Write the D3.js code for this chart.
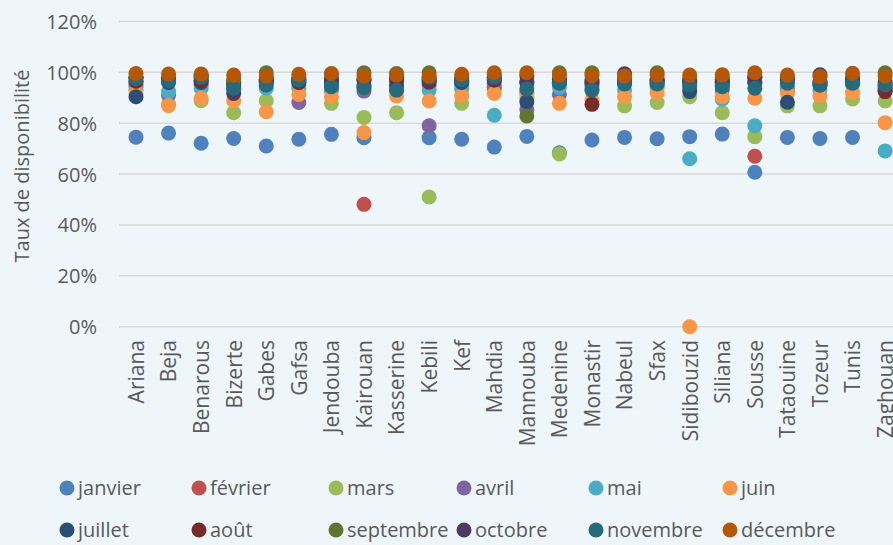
<!DOCTYPE html>
<html>
<head>
<meta charset="utf-8">
<script src="https://cdn.jsdelivr.net/npm/d3@7"></script>
<style>
  html, body { margin: 0; padding: 0; background: #eef6f9; }
  svg { display: block; }
  text { font-family: "Open Sans", "DejaVu Sans", sans-serif; fill: #595959; }
</style>
</head>
<body>
<svg id="chart" width="893" height="545"></svg>
<script>
// gouvernorats (axe x)
const gouvernorats = ["Ariana","Beja","Benarous","Bizerte","Gabes","Gafsa","Jendouba","Kairouan","Kasserine","Kebili","Kef","Mahdia","Mannouba","Medenine","Monastir","Nabeul","Sfax","Sidibouzid","Siliana","Sousse","Tataouine","Tozeur","Tunis","Zaghouan"];

const mois = ["janvier","février","mars","avril","mai","juin","juillet","août","septembre","octobre","novembre","décembre"];
const couleurs = ["#4f81bd","#c0504d","#9bbb59","#8064a2","#4bacc6","#f79646","#2c4d75","#772c2a","#5f7530","#4d3b62","#276a7c","#b65708"];

const yTicks = [0, 0.2, 0.4, 0.6, 0.8, 1.0, 1.2];

// taux de disponibilité (%) par mois, un tableau par mois, dans l'ordre des gouvernorats
const janvier   = [74.5,76.1,72.1,74.0,71.0,73.7,75.6,74.3,93.0,74.3,73.7,70.6,74.8,68.4,73.4,74.4,73.9,74.7,75.7,60.7,74.4,74.0,74.4,93.0];
const fevrier   = [96,97,97,96,97,97,96,48.1,97,95,96,95.4,96,96,96,96,96,96,96,67.0,94,95,96,95];
const mars      = [94,87.5,88.8,84.1,88.8,95,87.8,82.2,84.1,51.0,87.8,93.3,90,67.9,94,86.8,88.1,90.4,84.1,74.7,86.8,86.8,89.5,88.7];
const avril     = [95,91,95,93,96,88.1,93,92.6,94,79.0,95,94,85.4,91.3,95,96,95,94,93,96,93,96,96,93];
const mai       = [93,92.4,93.7,94,93.7,93.7,93,94,94,93.0,93.4,83.1,92,94,93,93.0,94,66.0,89.4,79.0,93,93,95,69.1];
const juin      = [91.7,86.9,89.8,88.8,84.5,91.3,90.4,76.3,90.7,88.7,90.8,91.7,91.7,87.8,89.1,90.4,92.0,0.0,90.4,89.8,91.7,90.7,92.0,80.2];
const juillet   = [90.4,96,96,95,96,96,95,95,95,97,96,97,88.4,96,95.9,96,96,92.4,95,96,88.2,95,96,94];
const aout      = [96.5,97,96.7,96,97,96.1,97,97,97,96.1,97,97,98.6,97,87.4,97,97,97,97,98.5,97,96,97,92.4];
const septembre = [98,98,99,97,99.8,98,99,99.8,99.5,99.8,98,99,82.8,99.8,99.8,98,99.8,97,98,98,98,95.7,98,99.8];
const octobre   = [98,97,98.5,91.7,97,97,97,97,98,97,96.7,98,96,97,97,99.4,97,96,96,98,97,99,97,96];
const novembre  = [97.5,96.7,98,93.7,95,97,94.3,93.9,93.0,98,97,98,93.4,95.7,93.0,95.4,95.4,95,94.3,93.7,95.7,95,95.7,95];
const decembre  = [99.5,99.3,99.3,98.9,98.5,99.2,99.5,98.5,98.9,98.5,99.2,99.8,99.8,98.9,98.7,98.5,98.9,98.9,99.0,99.8,98.9,98.3,99.6,98.5];

const series = [janvier,fevrier,mars,avril,mai,juin,juillet,aout,septembre,octobre,novembre,decembre];

const svg = d3.select("#chart");
svg.append("rect").attr("width", 893).attr("height", 545).attr("fill", "#eef6f9");

// zone de tracé (déborde à droite comme l'original)
const x = d3.scalePoint().domain(gouvernorats).range([119.7, 901.4]).padding(0.5);
const y = d3.scaleLinear().domain([0, 1.2]).range([326.7, 21.4]);

// grille horizontale
svg.append("g").selectAll("line")
  .data(yTicks)
  .join("line")
  .attr("x1", 119).attr("x2", 905)
  .attr("y1", d => y(d)).attr("y2", d => y(d))
  .attr("stroke", "#d9d9d9").attr("stroke-width", 1.5);

// étiquettes de l'axe y
const yAxis = d3.axisLeft(y).tickValues(yTicks).tickFormat(d3.format(".0%")).tickSize(0).tickPadding(0);
const gy = svg.append("g").attr("transform", "translate(97,0)").call(yAxis);
gy.select(".domain").remove();
gy.selectAll("text").attr("font-size", 20).attr("fill", "#595959").attr("dy", "0.35em")
  .style("font-family", "'Open Sans', sans-serif");

// titre de l'axe y
svg.append("text")
  .attr("transform", "translate(29,166) rotate(-90)")
  .attr("text-anchor", "middle")
  .attr("font-size", 20)
  .text("Taux de disponibilité");

// étiquettes de l'axe x (verticales)
const xAxis = d3.axisBottom(x).tickSize(0).tickPadding(0);
const gx = svg.append("g").attr("transform", "translate(0,340)").call(xAxis);
gx.select(".domain").remove();
gx.selectAll("text")
  .attr("transform", "rotate(-90)")
  .attr("text-anchor", "end")
  .attr("x", 0).attr("y", 0).attr("dy", "0.35em")
  .attr("font-size", 21).attr("fill", "#595959")
  .style("font-family", "'Open Sans', sans-serif");

// points, janvier dessous, décembre dessus
series.forEach((vals, i) => {
  svg.append("g").selectAll("circle")
    .data(vals)
    .join("circle")
    .attr("cx", (d, j) => x(gouvernorats[j]))
    .attr("cy", d => y(d / 100))
    .attr("r", 7.5)
    .attr("fill", couleurs[i]);
});

// légende
const legX = [67, 199, 336, 464, 596, 730];
const legY = [488, 530];
const leg = svg.append("g").selectAll("g")
  .data(mois)
  .join("g")
  .attr("transform", (d, i) => `translate(${legX[i % 6]},${legY[Math.floor(i / 6)]})`);
leg.append("circle").attr("r", 7.5).attr("fill", (d, i) => couleurs[i]);
leg.append("text").attr("x", 11).attr("dy", "0.35em").attr("font-size", 20).text(d => d);
</script>
</body>
</html>
